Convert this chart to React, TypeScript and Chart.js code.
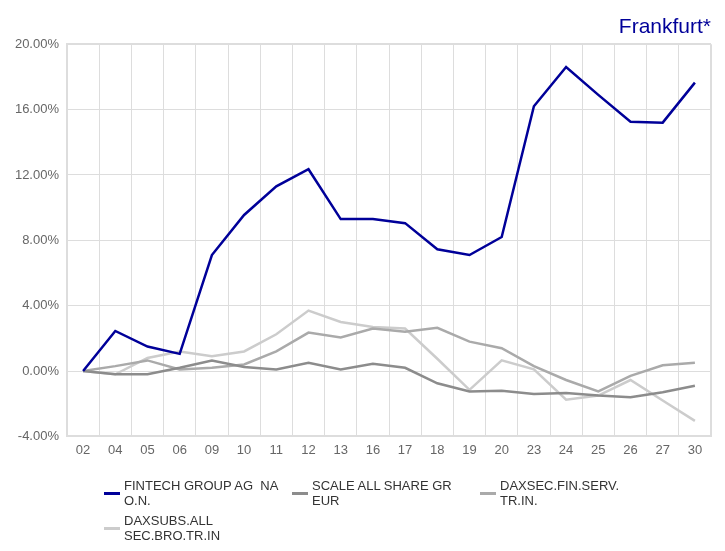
import React, { useEffect, useRef } from "react";
import { Chart, registerables } from "chart.js";

Chart.register(...registerables);

const categories = ["02", "04", "05", "06", "09", "10", "11", "12", "13", "16", "17", "18", "19", "20", "23", "24", "25", "26", "27", "30"];

const fintech = [0, 2.45, 1.5, 1.05, 7.1, 9.55, 11.3, 12.35, 9.3, 9.3, 9.05, 7.45, 7.1, 8.2, 16.2, 18.6, 16.9, 15.25, 15.2, 17.65];
const scaleAllShare = [0, -0.2, -0.2, 0.2, 0.65, 0.25, 0.1, 0.5, 0.1, 0.45, 0.2, -0.75, -1.25, -1.2, -1.4, -1.35, -1.5, -1.6, -1.3, -0.9];
const daxsecFin = [0, 0.3, 0.65, 0.1, 0.2, 0.4, 1.2, 2.35, 2.05, 2.6, 2.4, 2.65, 1.8, 1.4, 0.3, -0.55, -1.25, -0.3, 0.35, 0.5];
const daxsubsBro = [0, -0.2, 0.8, 1.2, 0.9, 1.2, 2.25, 3.7, 3.0, 2.7, 2.6, 0.75, -1.15, 0.65, 0.1, -1.75, -1.5, -0.55, -1.8, -3.05];

const seriesNames = ["FINTECH GROUP AG  NA O.N.", "SCALE ALL SHARE GR EUR", "DAXSEC.FIN.SERV. TR.IN.", "DAXSUBS.ALL SEC.BRO.TR.IN"];
const legendLines = [
  ["FINTECH GROUP AG  NA", "O.N."],
  ["SCALE ALL SHARE GR", "EUR"],
  ["DAXSEC.FIN.SERV.", "TR.IN."],
  ["DAXSUBS.ALL", "SEC.BRO.TR.IN"],
];
const seriesColors = ["#000099", "#8c8c8c", "#aaaaaa", "#cccccc"];

const yMin = -4;
const yMax = 20;
const yStep = 4;
const titleText = "Frankfurt*";

const FONT = "'Liberation Sans', Arial, sans-serif";

export default function App() {
  const canvasRef = useRef<HTMLCanvasElement | null>(null);

  useEffect(() => {
    const canvas = canvasRef.current;
    if (!canvas) return;
    const seriesData = [fintech, scaleAllShare, daxsecFin, daxsubsBro];
    const chart = new Chart(canvas, {
      type: "line",
      data: {
        labels: categories,
        datasets: seriesData.map((d, i) => ({
          label: seriesNames[i],
          data: d,
          borderColor: seriesColors[i],
          backgroundColor: seriesColors[i],
          borderWidth: 2.5,
          pointRadius: 0,
          tension: 0,
          fill: false,
        })),
      },
      options: {
        responsive: false,
        animation: false,
        devicePixelRatio: 1,
        layout: { padding: { left: 0, right: 14, top: 0, bottom: 87 } },
        plugins: {
          legend: { display: false },
          tooltip: { enabled: false },
          title: {
            display: true,
            text: titleText,
            align: "end",
            color: "#000099",
            font: { family: FONT, size: 21, weight: "normal" },
            padding: { top: 15, bottom: 4 },
          },
        },
        scales: {
          x: {
            type: "category",
            offset: true,
            grid: {
              offset: true,
              color: "#dddddd",
              drawTicks: false,
              lineWidth: (ctx: any) => (ctx.type !== "tick" || ctx.index === 0 ? 2 : 1),
            },
            border: { color: "#dddddd", width: 2 },
            ticks: { padding: 6, color: "#666666", font: { family: FONT, size: 13 } },
          },
          y: {
            min: yMin,
            max: yMax,
            afterFit: (scale: any) => {
              scale.width = 67;
            },
            grid: {
              color: "#dddddd",
              drawTicks: false,
              lineWidth: (ctx: any) => (ctx.tick && ctx.tick.value === yMax ? 2 : 1),
            },
            border: { color: "#dddddd", width: 2 },
            ticks: {
              stepSize: yStep,
              padding: 8,
              color: "#666666",
              font: { family: FONT, size: 13 },
              callback: (v: any) => Number(v).toFixed(2) + "%",
            },
          },
        },
      },
    });
    return () => chart.destroy();
  }, []);

  return (
    <div style={{ position: "absolute", left: 0, top: 0, width: 725, height: 551 }}>
      <canvas ref={canvasRef} width={725} height={551} style={{ display: "block" }} />
      <div
        style={{
          position: "absolute",
          left: 104,
          top: 478,
          width: 600,
          display: "grid",
          gridTemplateColumns: "188px 188px 188px",
          rowGap: 5,
          fontFamily: FONT,
          fontSize: 13,
          lineHeight: "15px",
          color: "#333333",
        }}
      >
        {legendLines.map((lines, i) => (
          <div key={i} style={{ display: "flex", alignItems: "center" }}>
            <div style={{ width: 16, height: 3, background: seriesColors[i], marginRight: 4, flex: "none" }} />
            <div>
              {lines.map((l, j) => (
                <div key={j} style={{ whiteSpace: "pre" }}>{l}</div>
              ))}
            </div>
          </div>
        ))}
      </div>
    </div>
  );
}
